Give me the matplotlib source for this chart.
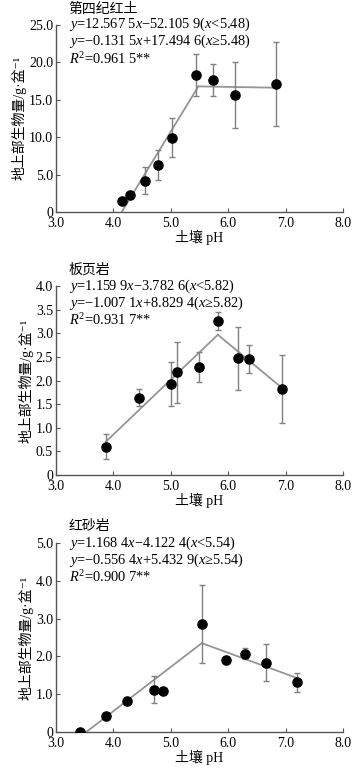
import matplotlib
matplotlib.use("Agg")
import matplotlib.pyplot as plt
import numpy as np

plt.rcParams['font.family'] = ['Liberation Serif', 'Noto Sans CJK SC', 'DejaVu Sans']
plt.rcParams['mathtext.fontset'] = 'custom'
plt.rcParams['mathtext.rm'] = 'Liberation Serif'
plt.rcParams['mathtext.it'] = 'Liberation Serif:italic'
plt.rcParams['mathtext.bf'] = 'Liberation Serif:bold'

# ---- Data ----
titles = ["第四纪红土", "板页岩", "红砂岩"]

ph1 = [4.15, 4.29, 4.56, 4.77, 5.03, 5.44, 5.73, 6.12, 6.83]
bio1 = [1.5, 2.3, 4.2, 6.3, 9.9, 18.3, 17.6, 15.6, 17.1]
err1 = [0.0, 0.0, 1.75, 2.0, 2.6, 2.8, 2.15, 4.45, 5.6]

ph2 = [3.87, 4.45, 5.00, 5.11, 5.50, 5.83, 6.17, 6.36, 6.94]
bio2 = [0.60, 1.64, 1.93, 2.17, 2.29, 3.25, 2.47, 2.45, 1.83]
err2 = [0.27, 0.18, 0.46, 0.64, 0.32, 0.19, 0.67, 0.30, 0.72]

ph3 = [3.42, 3.88, 4.23, 4.71, 4.87, 5.54, 5.96, 6.30, 6.66, 7.19]
bio3 = [0.0, 0.42, 0.83, 1.12, 1.09, 2.86, 1.90, 2.07, 1.83, 1.32]
err3 = [0.0, 0.0, 0.0, 0.36, 0.0, 1.03, 0.0, 0.15, 0.49, 0.25]

# piecewise fit coefficients: (slope1, intercept1, slope2, intercept2, breakpoint)
fit1 = (12.5675, -52.1059, -0.1315, 17.4946, 5.48)
fit2 = (1.1599, -3.7826, -1.0071, 8.8294, 5.82)
fit3 = (1.1684, -4.1224, -0.5564, 5.4329, 5.54)

eq_texts = [
    ["$y$=12.567 5$x$\u221252.105 9($x$<5.48)", "$y$=\u22120.131 5$x$+17.494 6($x$\u22655.48)", "$R^2$=0.961 5**"],
    ["$y$=1.159 9$x$\u22123.782 6($x$<5.82)", "$y$=\u22121.007 1$x$+8.829 4($x$\u22655.82)", "$R^2$=0.931 7**"],
    ["$y$=1.168 4$x$\u22124.122 4($x$<5.54)", "$y$=\u22120.556 4$x$+5.432 9($x$\u22655.54)", "$R^2$=0.900 7**"],
]

ylims = [25.0, 4.0, 5.0]
yticks = [
    [0, 5, 10, 15, 20, 25],
    [0, 0.5, 1.0, 1.5, 2.0, 2.5, 3.0, 3.5, 4.0],
    [0, 1, 2, 3, 4, 5],
]
xticks = [3.0, 4.0, 5.0, 6.0, 7.0, 8.0]

xlabel = "土壤 pH"
ylabel = "地上部生物量/g·盆\u207b\u00b9"

datasets = [(ph1, bio1, err1, fit1), (ph2, bio2, err2, fit2), (ph3, bio3, err3, fit3)]

fig = plt.figure(figsize=(3.63, 7.75), dpi=100)
boxes = [(0.968, 0.7265), (0.631, 0.387), (0.2994, 0.0555)]
left, right = 0.154, 0.945

gray = '#959595'
for i, ((x, y, e, fit), (top, bot)) in enumerate(zip(datasets, boxes)):
    ax = fig.add_axes([left, bot, right - left, top - bot])
    x = np.array(x); y = np.array(y); e = np.array(e)
    m1, b1, m2, b2, bp = fit
    x0 = max(x.min(), -b1 / m1)
    xa = np.array([x0, bp])
    xb = np.array([bp, x.max()])
    ax.plot(xa, m1 * xa + b1, color=gray, lw=1.3, zorder=2)
    ax.plot(xb, m2 * xb + b2, color=gray, lw=1.3, zorder=2)
    ax.errorbar(x, y, yerr=e, fmt='none', ecolor='#808080', elinewidth=1.0,
                capsize=2.5, capthick=1.0, zorder=3)
    ax.plot(x, y, 'o', color='black', ms=6.6, zorder=4)

    ax.set_xlim(3.0, 8.0)
    ax.set_ylim(0, ylims[i])
    ax.set_xticks(xticks)
    ax.set_xticklabels([f"{t:.1f}" for t in xticks])
    ax.set_yticks(yticks[i])
    ax.set_yticklabels(["0" if t == 0 else f"{t:.1f}" for t in yticks[i]])
    for s in ['top', 'right']:
        ax.spines[s].set_visible(False)
    for s in ['left', 'bottom']:
        ax.spines[s].set_color('#555555')
        ax.spines[s].set_linewidth(1.0)
    ax.tick_params(direction='in', length=3, width=0.8, color='#555555',
                   labelsize=10, pad=2)
    ax.tick_params(axis='x', pad=3.5)
    ax.set_xlabel(xlabel, fontsize=10, labelpad=0)
    ax.set_ylabel(ylabel, fontsize=10, labelpad=2)

    # annotations
    ax.text(0.045, 1.0 + 16 / ((top - bot) * 775), titles[i], transform=ax.transAxes,
            fontsize=10, va='center', ha='left')
    for j, t in enumerate(eq_texts[i]):
        ax.text(0.045, 1.0 - (j * 17) / ((top - bot) * 775), t, transform=ax.transAxes,
                fontsize=10.4, va='center', ha='left')

fig.savefig("out.png", dpi=100)
